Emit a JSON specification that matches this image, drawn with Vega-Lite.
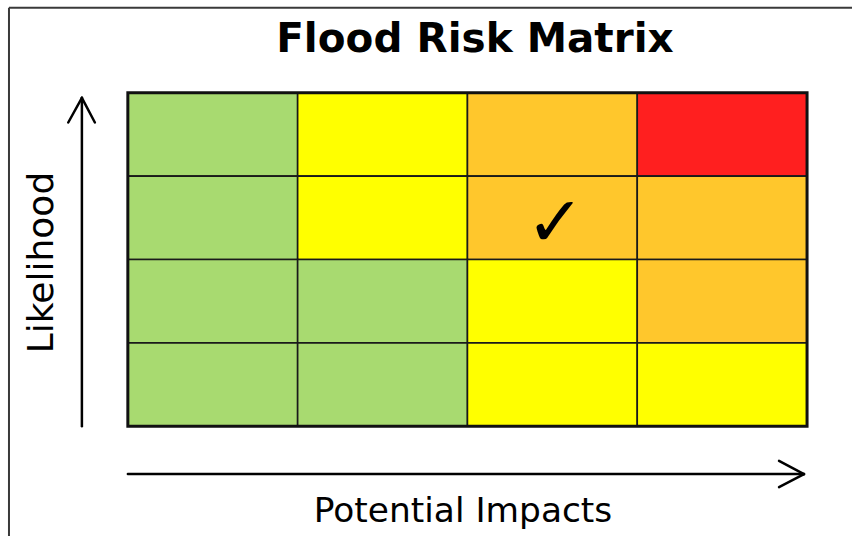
{
  "$schema": "https://vega.github.io/schema/vega-lite/v6.json",
  "width": 853,
  "height": 537,
  "autosize": {"type": "fit", "contains": "padding"},
  "padding": 0,
  "background": "white",
  "config": {"view": {"stroke": null}},
  "datasets": {
    "cells": [
      {"impact": 1, "likelihood": 4, "i0": 0, "i1": 1, "l0": 3, "l1": 4, "risk": "Low", "mark": ""},
      {"impact": 2, "likelihood": 4, "i0": 1, "i1": 2, "l0": 3, "l1": 4, "risk": "Medium", "mark": ""},
      {"impact": 3, "likelihood": 4, "i0": 2, "i1": 3, "l0": 3, "l1": 4, "risk": "High", "mark": ""},
      {"impact": 4, "likelihood": 4, "i0": 3, "i1": 4, "l0": 3, "l1": 4, "risk": "Very High", "mark": ""},
      {"impact": 1, "likelihood": 3, "i0": 0, "i1": 1, "l0": 2, "l1": 3, "risk": "Low", "mark": ""},
      {"impact": 2, "likelihood": 3, "i0": 1, "i1": 2, "l0": 2, "l1": 3, "risk": "Medium", "mark": ""},
      {"impact": 3, "likelihood": 3, "i0": 2, "i1": 3, "l0": 2, "l1": 3, "risk": "High", "mark": "✓"},
      {"impact": 4, "likelihood": 3, "i0": 3, "i1": 4, "l0": 2, "l1": 3, "risk": "High", "mark": ""},
      {"impact": 1, "likelihood": 2, "i0": 0, "i1": 1, "l0": 1, "l1": 2, "risk": "Low", "mark": ""},
      {"impact": 2, "likelihood": 2, "i0": 1, "i1": 2, "l0": 1, "l1": 2, "risk": "Low", "mark": ""},
      {"impact": 3, "likelihood": 2, "i0": 2, "i1": 3, "l0": 1, "l1": 2, "risk": "Medium", "mark": ""},
      {"impact": 4, "likelihood": 2, "i0": 3, "i1": 4, "l0": 1, "l1": 2, "risk": "High", "mark": ""},
      {"impact": 1, "likelihood": 1, "i0": 0, "i1": 1, "l0": 0, "l1": 1, "risk": "Low", "mark": ""},
      {"impact": 2, "likelihood": 1, "i0": 1, "i1": 2, "l0": 0, "l1": 1, "risk": "Low", "mark": ""},
      {"impact": 3, "likelihood": 1, "i0": 2, "i1": 3, "l0": 0, "l1": 1, "risk": "Medium", "mark": ""},
      {"impact": 4, "likelihood": 1, "i0": 3, "i1": 4, "l0": 0, "l1": 1, "risk": "Medium", "mark": ""}
    ],
    "arrows": [
      {"x": -0.2706, "y": 0, "x2": -0.2706, "y2": 3.94},
      {"x": -0.2706, "y": 3.94, "x2": -0.351, "y2": 3.644},
      {"x": -0.2706, "y": 3.94, "x2": -0.1941, "y2": 3.644},
      {"x": 0, "y": -0.5749, "x2": 3.982, "y2": -0.5749},
      {"x": 3.982, "y": -0.5749, "x2": 3.835, "y2": -0.4156},
      {"x": 3.982, "y": -0.5749, "x2": 3.835, "y2": -0.7305}
    ],
    "frame": [
      {"x": -0.70, "y": 5.02, "x2": 4.2647, "y2": 5.02},
      {"x": -0.70, "y": 5.02, "x2": -0.70, "y2": -1.3174}
    ],
    "labels": [
      {"text": "Flood Risk Matrix", "x": 2.044, "y": 4.491, "role": "title"},
      {"text": "Potential Impacts", "x": 1.974, "y": -1.1497, "role": "xlabel"},
      {"text": "Likelihood", "x": -0.441, "y": 1.964, "role": "ylabel"}
    ]
  },
  "layer": [
    {
      "data": {"name": "frame"},
      "mark": {"type": "rule", "stroke": "#3a3a3a", "strokeWidth": 2},
      "encoding": {
        "x": {"field": "x", "type": "quantitative", "scale": {"domain": [-0.7529, 4.2647], "nice": false, "zero": false}, "axis": null},
        "y": {"field": "y", "type": "quantitative", "scale": {"domain": [-1.3174, 5.1138], "nice": false, "zero": false}, "axis": null},
        "x2": {"field": "x2"},
        "y2": {"field": "y2"}
      }
    },
    {
      "data": {"name": "cells"},
      "mark": {"type": "rect", "stroke": "#1a1a1a", "strokeWidth": 1.6},
      "encoding": {
        "x": {"field": "i0", "type": "quantitative"},
        "x2": {"field": "i1"},
        "y": {"field": "l0", "type": "quantitative"},
        "y2": {"field": "l1"},
        "color": {
          "field": "risk",
          "type": "nominal",
          "scale": {"domain": ["Low", "Medium", "High", "Very High"], "range": ["#A8DA70", "#FFFF00", "#FFC72C", "#FF1F1F"]},
          "legend": null
        }
      }
    },
    {
      "data": {"values": [{"a": 0, "b": 4}]},
      "mark": {"type": "rect", "fill": null, "fillOpacity": 0, "stroke": "#111111", "strokeWidth": 3},
      "encoding": {
        "x": {"field": "a", "type": "quantitative"},
        "x2": {"field": "b"},
        "y": {"field": "a", "type": "quantitative"},
        "y2": {"field": "b"}
      }
    },
    {
      "data": {"name": "cells"},
      "transform": [{"filter": "datum.mark != ''"}],
      "mark": {"type": "text", "font": "DejaVu Sans", "fontSize": 70, "baseline": "middle", "align": "center", "color": "#000000", "dx": 88, "dy": -35},
      "encoding": {
        "x": {"field": "i0", "type": "quantitative"},
        "y": {"field": "l0", "type": "quantitative"},
        "text": {"field": "mark"}
      }
    },
    {
      "data": {"name": "arrows"},
      "mark": {"type": "rule", "stroke": "#000000", "strokeWidth": 2.5, "strokeCap": "round"},
      "encoding": {
        "x": {"field": "x", "type": "quantitative"},
        "y": {"field": "y", "type": "quantitative"},
        "x2": {"field": "x2"},
        "y2": {"field": "y2"}
      }
    },
    {
      "data": {"name": "labels"},
      "transform": [{"filter": "datum.role == 'title'"}],
      "mark": {"type": "text", "font": "DejaVu Sans", "fontWeight": "bold", "fontSize": 40.5, "align": "center", "baseline": "alphabetic", "color": "#000000"},
      "encoding": {
        "x": {"field": "x", "type": "quantitative"},
        "y": {"field": "y", "type": "quantitative"},
        "text": {"field": "text"}
      }
    },
    {
      "data": {"name": "labels"},
      "transform": [{"filter": "datum.role == 'xlabel'"}],
      "mark": {"type": "text", "font": "DejaVu Sans", "fontSize": 34.4, "align": "center", "baseline": "alphabetic", "color": "#000000"},
      "encoding": {
        "x": {"field": "x", "type": "quantitative"},
        "y": {"field": "y", "type": "quantitative"},
        "text": {"field": "text"}
      }
    },
    {
      "data": {"name": "labels"},
      "transform": [{"filter": "datum.role == 'ylabel'"}],
      "mark": {"type": "text", "font": "DejaVu Sans", "fontSize": 36, "angle": 270, "align": "center", "baseline": "alphabetic", "color": "#000000"},
      "encoding": {
        "x": {"field": "x", "type": "quantitative"},
        "y": {"field": "y", "type": "quantitative"},
        "text": {"field": "text"}
      }
    }
  ]
}
